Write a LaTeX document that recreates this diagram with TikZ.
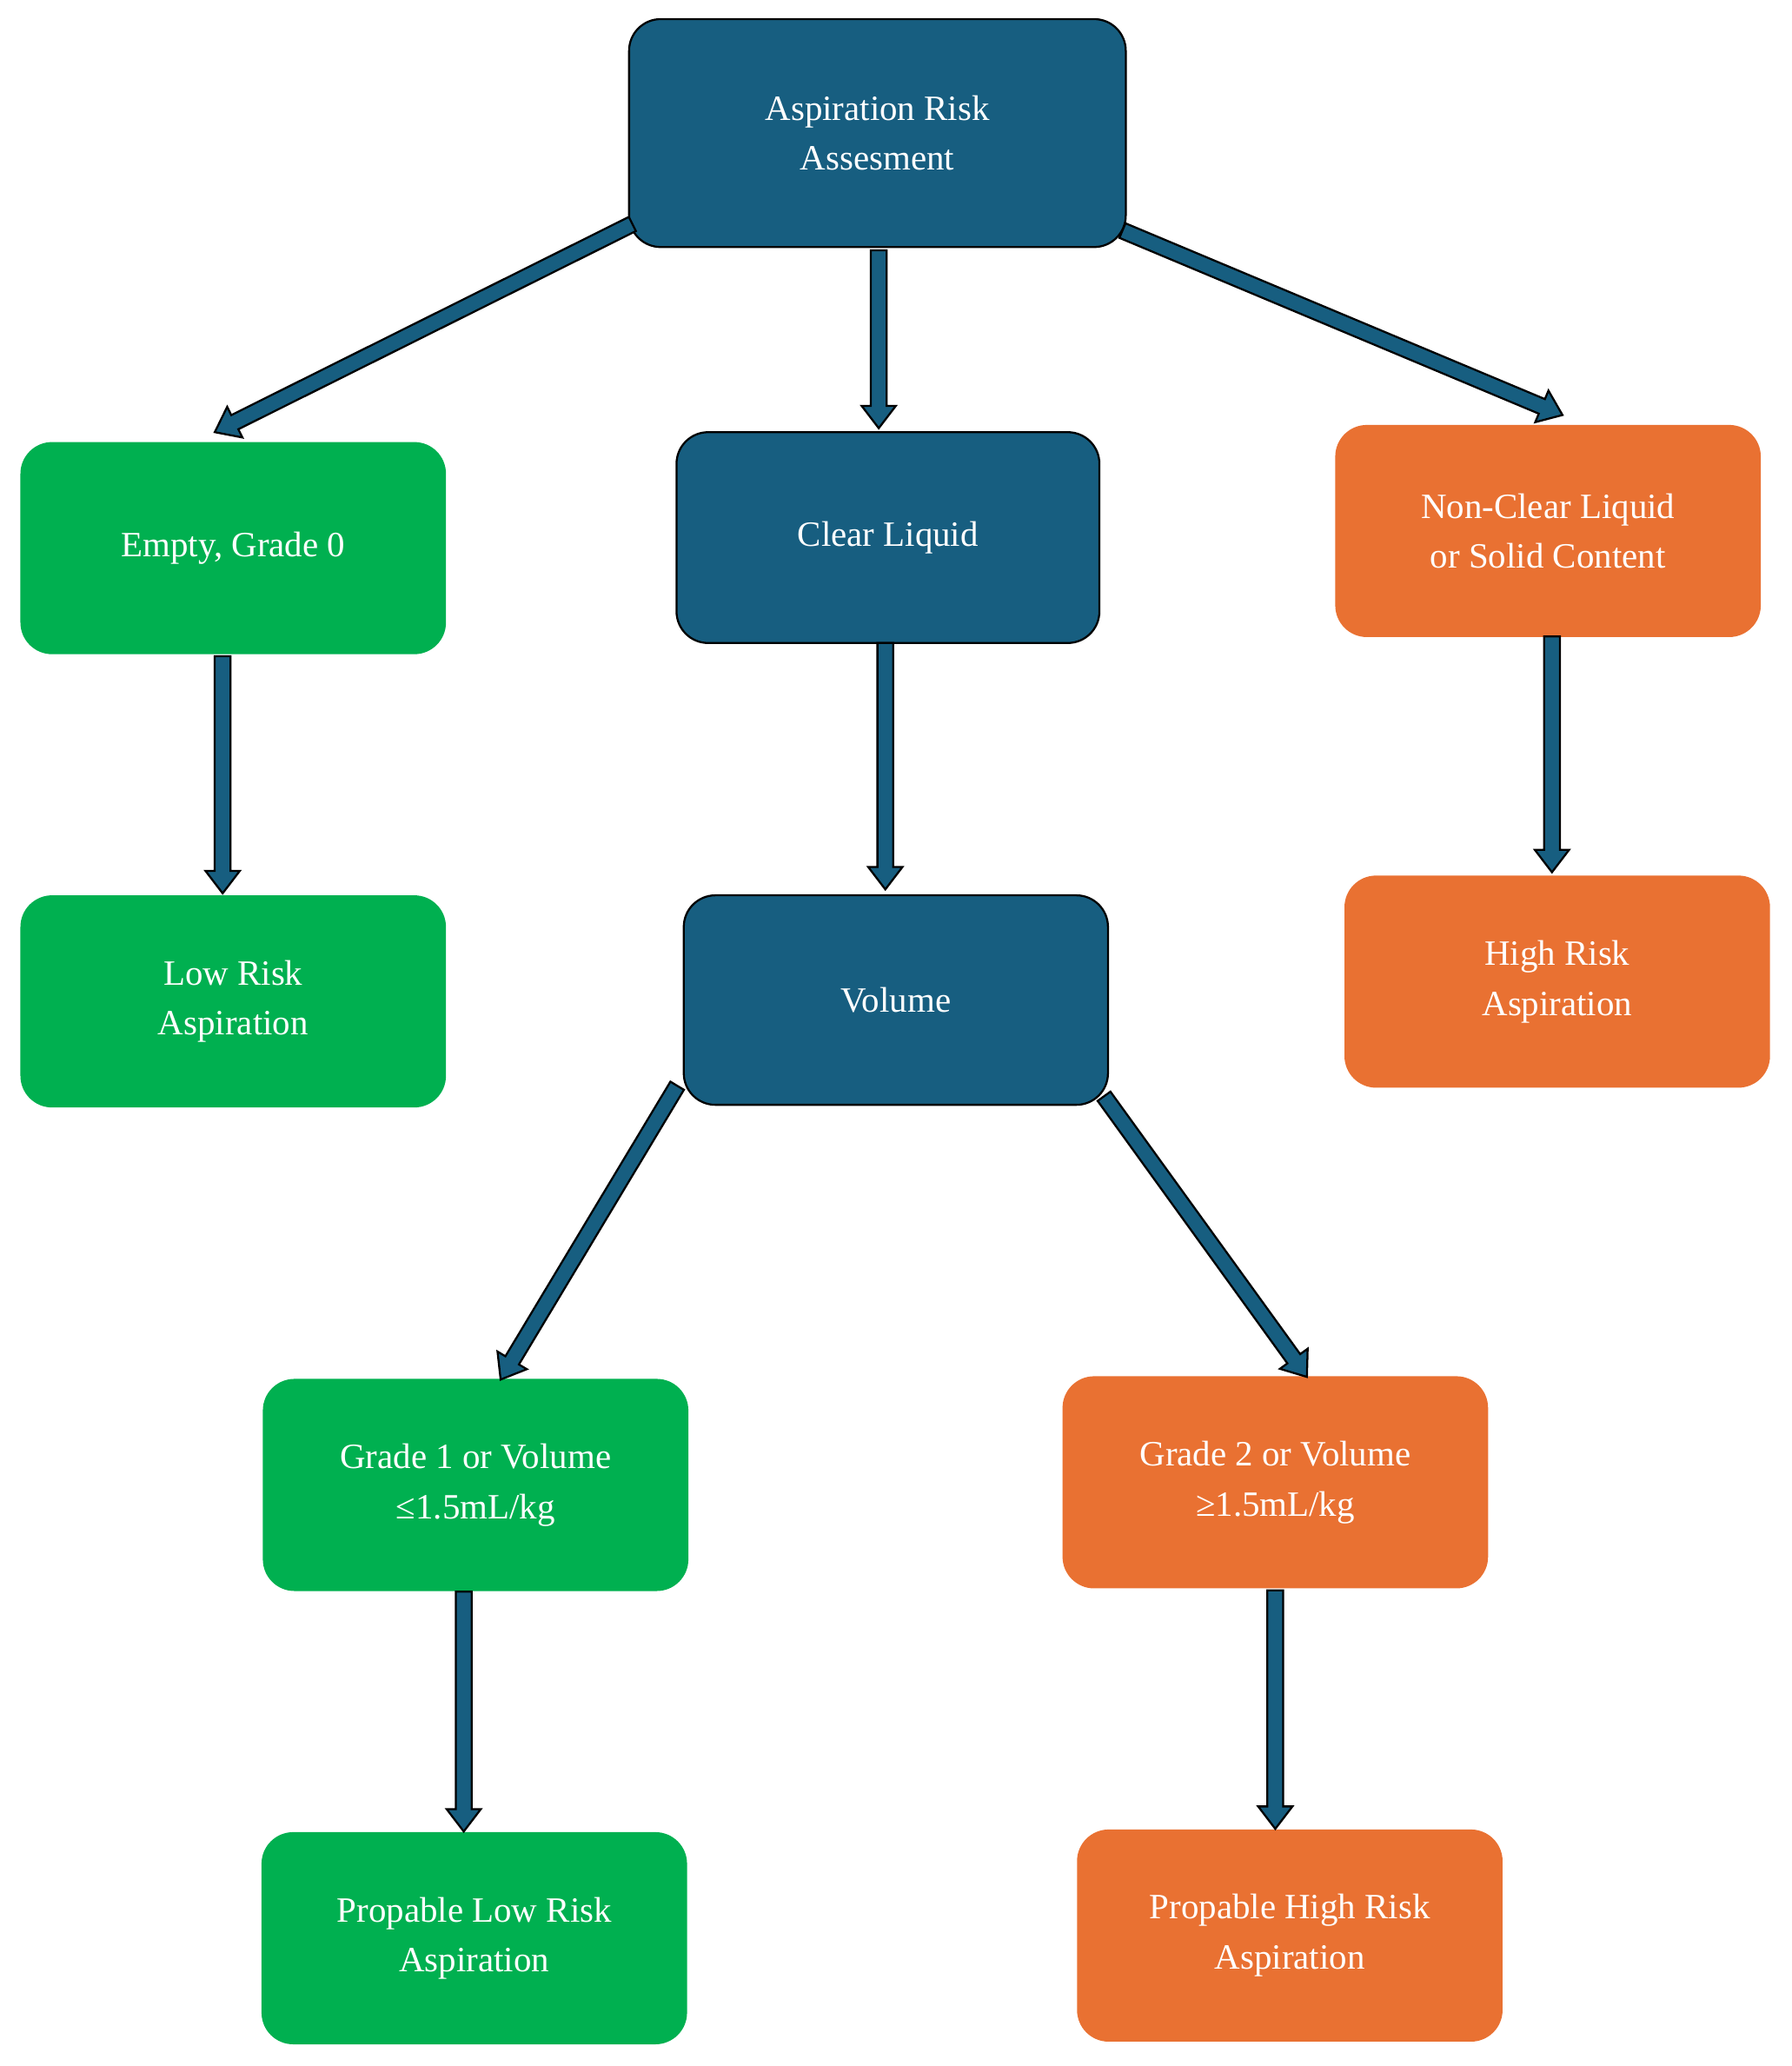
\documentclass[tikz,border=0pt]{standalone}
\usepackage{fontspec}
\setmainfont{Liberation Serif}
\usetikzlibrary{calc}
\definecolor{nblue}{HTML}{175E80}
\definecolor{ngreen}{HTML}{00B050}
\definecolor{norange}{HTML}{E97132}
\newcommand\barrow[2]{%
  \path[draw=black,fill=nblue,line width=1.5pt,line join=miter] let \p1=(#1), \p2=(#2),
    \n1={atan2(\y2-\y1,\x2-\x1)}, \n2={veclen(\x2-\x1,\y2-\y1)} in
    [shift={(\p1)},rotate=\n1]
    (0pt,-6pt) -- (\n2-17pt,-6pt) -- (\n2-17pt,-13pt) -- (\n2,0pt) -- (\n2-17pt,13pt)
    -- (\n2-17pt,6pt) -- (0pt,6pt) -- cycle;}
\begin{document}
\begin{tikzpicture}[x=1pt,y=-1pt,
  box/.style={rounded corners=24pt,minimum width=323pt,minimum height=161pt,
    text=white,align=center,font=\fontsize{27}{38}\selectfont,inner sep=4pt},
  bl/.style={box,fill=nblue,draw=black,line width=1.5pt},
  gr/.style={box,fill=ngreen},
  or/.style={box,fill=norange}]
\useasboundingbox (0,0) rectangle (1360,1568);
\node[bl,minimum width=377pt,minimum height=173pt] (top) at (666,101) {Aspiration Risk\\Assesment};
\node[gr] (empty) at (177,416) {Empty, Grade 0};
\node[bl,minimum width=321pt,minimum height=160pt] (clear) at (674,408) {Clear Liquid};
\node[or] (nonclear) at (1175,403) {Non-Clear Liquid\\or Solid Content};
\node[gr] (low) at (177,760) {Low Risk\\Aspiration};
\node[bl,minimum width=322pt,minimum height=159pt] (vol) at (680,759) {Volume};
\node[or] (high) at (1182,745) {High Risk\\Aspiration};
\node[gr] (g1) at (361,1127) {Grade 1 or Volume\\≤1.5mL/kg};
\node[or] (g2) at (968,1125) {Grade 2 or Volume\\≥1.5mL/kg};
\node[gr] (pl) at (360,1471) {Propable Low Risk\\Aspiration};
\node[or] (ph) at (979,1469) {Propable High Risk\\Aspiration};
\coordinate (a1s) at (480,170); \coordinate (a1e) at (163,328);
\coordinate (a2s) at (667,190); \coordinate (a2e) at (667,325);
\coordinate (a3s) at (852,175); \coordinate (a3e) at (1186,315);
\coordinate (a4s) at (169,498); \coordinate (a4e) at (169,678);
\coordinate (a5s) at (672,488); \coordinate (a5e) at (672,675);
\coordinate (a6s) at (1178,483); \coordinate (a6e) at (1178,662);
\coordinate (a7s) at (514,824); \coordinate (a7e) at (380,1047);
\coordinate (a8s) at (838,832); \coordinate (a8e) at (992,1045);
\coordinate (a9s) at (352,1208); \coordinate (a9e) at (352,1390);
\coordinate (a10s) at (968,1207); \coordinate (a10e) at (968,1388);
\barrow{a1s}{a1e}
\barrow{a2s}{a2e}
\barrow{a3s}{a3e}
\barrow{a4s}{a4e}
\barrow{a5s}{a5e}
\barrow{a6s}{a6e}
\barrow{a7s}{a7e}
\barrow{a8s}{a8e}
\barrow{a9s}{a9e}
\barrow{a10s}{a10e}
\end{tikzpicture}
\end{document}
